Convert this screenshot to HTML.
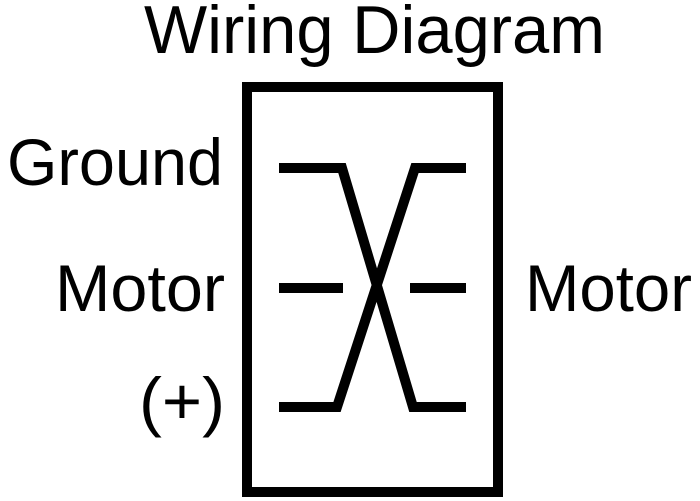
<!DOCTYPE html>
<html><head><meta charset="utf-8"><style>
html,body{margin:0;padding:0;background:#fff;}
svg{display:block;}
text{font-family:"Liberation Sans",Arial,sans-serif;fill:#000;}
</style></head><body>
<svg width="700" height="501" viewBox="0 0 700 501" xmlns="http://www.w3.org/2000/svg">
<text x="144" y="53" font-size="68" textLength="461" lengthAdjust="spacingAndGlyphs">Wiring Diagram</text>
<text x="7" y="185" font-size="66" textLength="216" lengthAdjust="spacingAndGlyphs">Ground</text>
<text x="55" y="311" font-size="66" textLength="170" lengthAdjust="spacingAndGlyphs">Motor</text>
<text x="139" y="424" font-size="66" textLength="86" lengthAdjust="spacingAndGlyphs">(+)</text>
<text x="525" y="311" font-size="66" textLength="167" lengthAdjust="spacingAndGlyphs">Motor</text>
<rect x="247" y="87" width="251" height="405" fill="none" stroke="#000" stroke-width="10"/>
<g fill="none" stroke="#000" stroke-width="10" stroke-linejoin="miter">
<polyline points="279,168 342,168 413,407 466,407"/>
<polyline points="466,168 415,168 337,407 279,407"/>
<line x1="279" y1="288" x2="343" y2="288"/>
<line x1="410" y1="288" x2="466" y2="288"/>
</g>
</svg>
</body></html>
